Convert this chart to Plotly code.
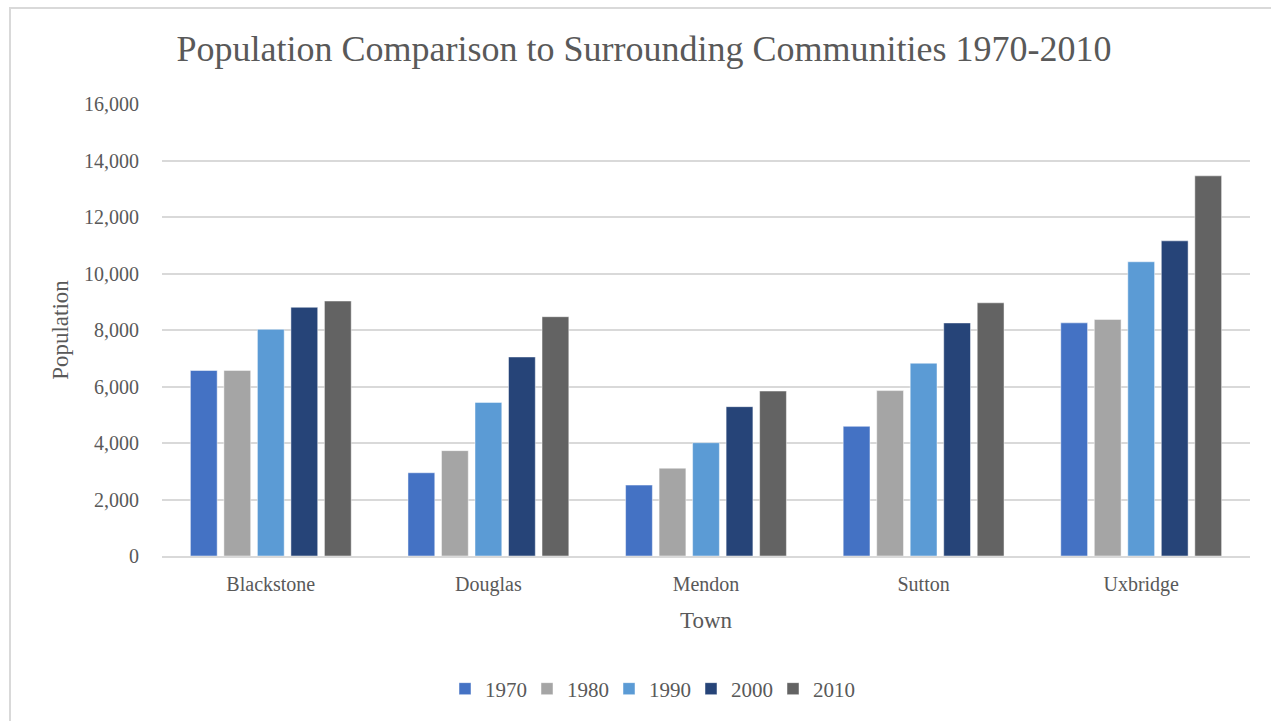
import plotly.graph_objects as go

towns = ["Blackstone", "Douglas", "Mendon", "Sutton", "Uxbridge"]
years = ["1970", "1980", "1990", "2000", "2010"]
pop_1970 = [6566, 2947, 2510, 4590, 8253]
pop_1980 = [6570, 3730, 3108, 5855, 8374]
pop_1990 = [8023, 5438, 4010, 6824, 10415]
pop_2000 = [8804, 7045, 5286, 8250, 11156]
pop_2010 = [9026, 8471, 5839, 8963, 13457]
series = [pop_1970, pop_1980, pop_1990, pop_2000, pop_2010]
colors = ["#4472C4", "#A5A5A5", "#5B9BD5", "#264478", "#636363"]

W, H = 1271, 721
L, R, T, B = 162, 1250, 104, 556
FONT = "Liberation Serif, Times New Roman, serif"
GREY = "#595959"

fig = go.Figure()
for yr, vals, c in zip(years, series, colors):
    fig.add_trace(go.Bar(
        x=towns, y=vals, name=yr,
        marker=dict(color=c, line=dict(color="rgba(255,255,255,0.6)", width=0.8)),
    ))

def px_x(p):
    return (p - L) / (R - L)

def px_y(p):
    return (B - p) / (B - T)

fig.update_layout(
    width=W, height=H,
    margin=dict(l=L, r=W - R, t=T, b=H - B, pad=0),
    paper_bgcolor="white", plot_bgcolor="white",
    barmode="group", bargap=0.23, bargroupgap=0.2,
    font=dict(family=FONT, color=GREY, size=18),
    title=dict(text="Population Comparison to Surrounding Communities 1970-2010",
               x=644 / W, xanchor="center", y=1 - 48 / H, yanchor="middle",
               xref="container", yref="container",
               font=dict(family=FONT, size=36, color=GREY)),
    showlegend=True,
    legend=dict(orientation="h", x=px_x(650), xanchor="center",
                y=px_y(689), yanchor="middle",
                font=dict(family=FONT, size=21, color=GREY),
                itemwidth=30, tracegroupgap=0, traceorder="normal",
                entrywidth=37, entrywidthmode="pixels"),
    xaxis=dict(showline=True, linecolor="#D9D9D9", linewidth=1.5,
               ticks="", tickfont=dict(size=20, color=GREY),
               ticklabelstandoff=9,
               title=dict(text="Town", font=dict(size=23, color=GREY), standoff=17)),
    yaxis=dict(range=[0, 16000], dtick=2000, tickformat=",d",
               showgrid=True, gridcolor="#D9D9D9", gridwidth=1.5,
               zeroline=False, showline=False, ticks="",
               ticklabelstandoff=22,
               tickfont=dict(size=20, color=GREY),
               title=dict(text="Population", font=dict(size=23, color=GREY), standoff=8)),
    shapes=[dict(type="rect", xref="paper", yref="paper",
                 x0=px_x(10), x1=px_x(1290), y0=px_y(8), y1=px_y(740),
                 line=dict(color="#D9D9D9", width=2), fillcolor="rgba(0,0,0,0)",
                 layer="below")],
)

fig.write_html("out.html")
